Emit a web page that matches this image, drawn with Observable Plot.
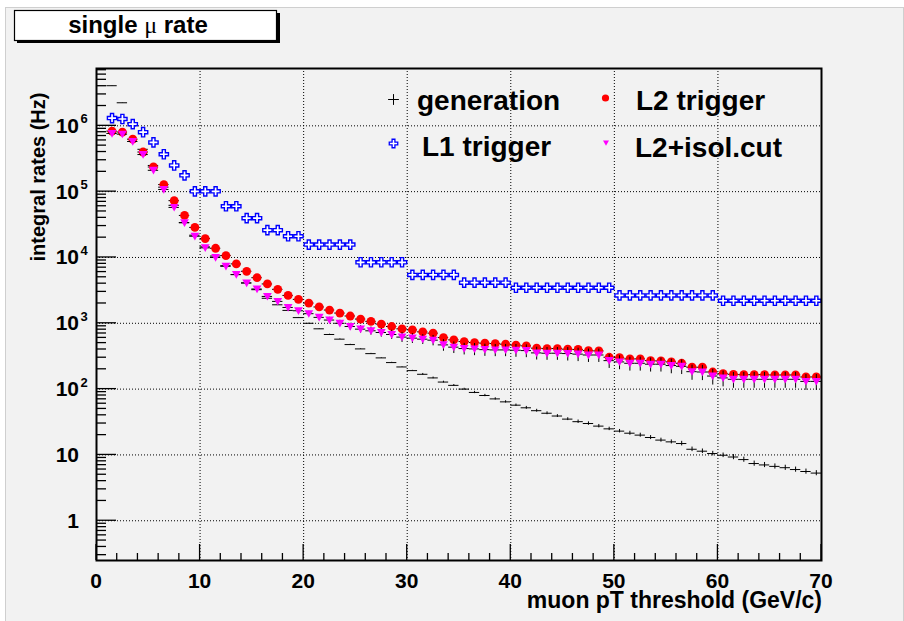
<!DOCTYPE html>
<html><head><meta charset="utf-8">
<script src="https://cdn.jsdelivr.net/npm/d3@7"></script>
<script src="https://cdn.jsdelivr.net/npm/@observablehq/plot@0.6"></script>
<style>
html,body{margin:0;padding:0;background:#fff;}
#chart{position:absolute;left:0;top:0;}
</style></head><body><div id="chart"></div>
<script>
// ---- data (bin centres in GeV/c, integral rates in Hz) ----
const ptBins = [1.5,2.5,3.5,4.5,5.5,6.5,7.5,8.5,9.5,10.5,
  11.5,12.5,13.5,14.5,15.5,16.5,17.5,18.5,19.5,20.5,
  21.5,22.5,23.5,24.5,25.5,26.5,27.5,28.5,29.5,30.5,
  31.5,32.5,33.5,34.5,35.5,36.5,37.5,38.5,39.5,40.5,
  41.5,42.5,43.5,44.5,45.5,46.5,47.5,48.5,49.5,50.5,
  51.5,52.5,53.5,54.5,55.5,56.5,57.5,58.5,59.5,60.5,
  61.5,62.5,63.5,64.5,65.5,66.5,67.5,68.5,69.5];
const generation = [4.07e6,2.24e6,1.1e6,4.4e5,2.5e5,1.17e5,6.2e4,3.4e4,2.18e4,1.45e4,
  1.05e4,7500,5500,4100,3240,2400,1910,1570,1220,1000,
  824,676,574,475,408,346,298,253,217,191,
  168,148,128,114,100,89,80,71,64,57,
  52,47,43,39,35,32,30,27.4,24.9,23,
  21.4,20,18.4,16.8,15.8,14.9,12.2,11.4,10.5,9.9,
  9.3,8.5,7.4,7.05,6.7,6.4,6.0,5.6,5.3];
const generationRelErr = [0.005,0.005,0.005,0.005,0.005,0.005,0.005,0.005,0.005,0.005,
  0.005,0.005,0.005,0.005,0.005,0.005,0.005,0.005,0.005,0.005,
  0.01,0.01,0.01,0.01,0.01,0.01,0.01,0.01,0.01,0.01,
  0.03,0.03,0.03,0.03,0.03,0.04,0.04,0.04,0.04,0.04,
  0.05,0.05,0.05,0.05,0.05,0.06,0.06,0.06,0.06,0.06,
  0.07,0.07,0.07,0.07,0.07,0.08,0.08,0.08,0.08,0.08,
  0.09,0.09,0.09,0.09,0.09,0.09,0.09,0.09,0.09];
const l1Trigger = [1.31e6,1.27e6,1.06e6,8.0e5,5.6e5,3.7e5,2.5e5,1.77e5,1.01e5,1.01e5,
  1.01e5,6.0e4,6.0e4,3.96e4,3.96e4,2.6e4,2.6e4,2.1e4,2.1e4,1.57e4,
  1.57e4,1.57e4,1.57e4,1.57e4,8450,8450,8450,8450,8450,5430,
  5430,5430,5430,5430,4140,4140,4140,4140,4140,3470,
  3470,3470,3470,3470,3470,3470,3470,3470,3470,2650,
  2650,2650,2650,2650,2650,2650,2650,2650,2650,2200,
  2200,2200,2200,2200,2200,2200,2200,2200,2200];
const l2Trigger = [8.3e5,8.05e5,6.27e5,4.0e5,2.37e5,1.28e5,7.3e4,4.35e4,2.86e4,1.94e4,
  1.38e4,1.07e4,7990,6170,4930,3960,3280,2650,2310,2030,
  1770,1590,1430,1290,1160,1070,972,894,824,796,
  741,708,607,560,528,510,499,492,482,466,
  454,419,413,413,404,400,385,381,305,301,
  288,288,271,268,259,247,215,215,182,172,
  168,166,166,166,164,164,164,153,153];
const l2Isol = [7.66e5,7.47e5,5.78e5,3.66e5,2.11e5,1.08e5,5.76e4,3.36e4,2.1e4,1.4e4,
  1.0e4,7340,5490,4100,3320,2560,2150,1740,1550,1400,
  1230,1120,1000,894,815,769,725,676,617,595,
  574,554,470,434,413,408,398,394,394,390,
  385,355,351,351,347,340,330,330,271,259,
  247,247,239,239,228,222,184,182,158,148,
  141,141,141,141,141,141,141,131,131];
const l2IsolRelErr = [0.01,0.01,0.01,0.01,0.01,0.01,0.01,0.01,0.01,0.01,
  0.02,0.02,0.03,0.03,0.04,0.05,0.06,0.07,0.08,0.09,
  0.10,0.10,0.11,0.12,0.13,0.14,0.15,0.16,0.17,0.17,
  0.17,0.18,0.20,0.20,0.20,0.21,0.21,0.21,0.21,0.22,
  0.22,0.22,0.22,0.22,0.23,0.23,0.23,0.23,0.24,0.24,
  0.24,0.24,0.24,0.24,0.25,0.25,0.26,0.26,0.27,0.27,
  0.27,0.27,0.27,0.27,0.27,0.27,0.27,0.27,0.27];
const binWidth = 1;

const xTickValues = [0,10,20,30,40,50,60,70];
const xTickLabels = ["0","10","20","30","40","50","60","70"];
const yTickValues = [1,10,100,1e3,1e4,1e5,1e6];
const yTickBase = ["1","10","10","10","10","10","10"];
const yTickExp = ["","","2","3","4","5","6"];
const legendLabels = ["generation","L1 trigger","L2 trigger","L2+isol.cut"];
const xDomain = [0,70];
const yDomain = [0.249, 7.43e6];

// ---- tables ----
const gen = ptBins.map((x,i)=>({x, v:generation[i], e:generationRelErr[i]}));
const l1 = ptBins.map((x,i)=>({x, v:l1Trigger[i]}));
const l2 = ptBins.map((x,i)=>({x, v:l2Trigger[i]}));
const iso = ptBins.map((x,i)=>({x, v:l2Isol[i], e:l2IsolRelErr[i]}));

const triangleDown = {draw(ctx, size){const r=Math.sqrt(size/Math.PI);
  ctx.moveTo(-r,-r*0.8); ctx.lineTo(r,-r*0.8); ctx.lineTo(0,r*0.95); ctx.closePath();}};

const FONT = "'Liberation Sans', Arial, Helvetica, sans-serif";
const hbar = (data)=>Plot.ruleY(data,{x1:d=>d.x-binWidth/2, x2:d=>d.x+binWidth/2, y:"v", stroke:"black", strokeWidth:1});

const plot = Plot.plot({
  width: 904, height: 621,
  marginLeft: 96, marginRight: 83, marginTop: 68, marginBottom: 61,
  x: {domain: xDomain, axis: null},
  y: {type: "log", domain: yDomain, axis: null},
  style: {background: "white", overflow: "visible"},
  marks: [
    Plot.ruleX(xTickValues.slice(1,-1), {stroke:"#000", strokeWidth:1, strokeDasharray:"1,2"}),
    Plot.ruleY(yTickValues, {stroke:"#000", strokeWidth:1, strokeDasharray:"1,2"}),
    hbar(gen),
    Plot.ruleX(gen, {x:"x", y1:d=>d.v*(1-d.e), y2:d=>d.v*(1+d.e), stroke:"black", strokeWidth:1}),
    Plot.dot(l1, {x:"x", y:"v", symbol:"cross", r:3.9, fill:"white", stroke:"blue", strokeWidth:1.4}),
    hbar(l2),
    Plot.dot(l2, {x:"x", y:"v", r:4.4, fill:"red", stroke:"none"}),
    hbar(iso),
    Plot.ruleX(iso, {x:"x", y1:d=>d.v*(1-d.e), y2:d=>d.v*(1+d.e), stroke:"black", strokeWidth:1}),
    Plot.dot(iso, {x:"x", y:"v", symbol:triangleDown, r:4.4, fill:"#ff00ff", stroke:"none"}),
    Plot.frame({stroke:"black", strokeWidth:2})
  ]
});
document.getElementById("chart").appendChild(plot);

// ---- decorations drawn with the plot's own scales ----
const svg = d3.select(plot);
const X = v => plot.scale("x").apply(v);
const Y = v => plot.scale("y").apply(v);
const x0 = X(xDomain[0]), yb = Y(yDomain[0]);

svg.insert("rect", ":first-child")
  .attr("x",5.5).attr("y",7.5).attr("width",898).attr("height",614)
  .attr("fill","#f2f2f2").attr("stroke","#cfcfcf").attr("stroke-width",1);

const g = svg.append("g").attr("stroke","black").attr("stroke-width",1.3);
for (let v=xDomain[0]; v<=xDomain[1]; v+=2) {
  const major = v%10===0;
  g.append("line").attr("x1",X(v)).attr("x2",X(v)).attr("y1",yb).attr("y2",yb-(major?16:7));
}
for (let p=-1; p<=6; p++) {
  for (let m=1; m<=9; m++) {
    const v = m*Math.pow(10,p);
    if (v<yDomain[0] || v>yDomain[1]) continue;
    g.append("line").attr("y1",Y(v)).attr("y2",Y(v)).attr("x1",x0).attr("x2",x0+(m===1?20:10));
  }
}
const t = svg.append("g").attr("font-family",FONT).attr("font-weight","bold").attr("fill","black");
xTickValues.forEach((v,i)=>{
  t.append("text").attr("x",X(v)).attr("y",588).attr("text-anchor","middle").attr("font-size",21).text(xTickLabels[i]);
});
yTickValues.forEach((v,i)=>{
  t.append("text").attr("x",79).attr("y",Y(v)+7.5).attr("text-anchor","end").attr("font-size",21).text(yTickBase[i]);
  if (yTickExp[i]) t.append("text").attr("x",80.5).attr("y",Y(v)-2).attr("text-anchor","start").attr("font-size",13).text(yTickExp[i]);
});
t.append("text").attr("x",822).attr("y",608).attr("text-anchor","end").attr("font-size",23).text("muon pT threshold (GeV/c)");
t.append("text").attr("transform","translate(45,177) rotate(-90)").attr("text-anchor","middle").attr("font-size",20).text("integral rates (Hz)");

// title box
svg.append("rect").attr("x",17).attr("y",13).attr("width",263).attr("height",30).attr("fill","black");
svg.append("rect").attr("x",14.5).attr("y",10.5).attr("width",262).attr("height",30).attr("fill","white").attr("stroke","black").attr("stroke-width",1.2);
const tt = svg.append("text").attr("x",138).attr("y",33).attr("text-anchor","middle")
  .attr("font-family",FONT).attr("font-weight","bold").attr("font-size",24).attr("fill","black");
tt.append("tspan").text("single ");
tt.append("tspan").attr("font-family","'Liberation Serif', 'DejaVu Serif', serif").attr("font-weight","normal").text("μ");
tt.append("tspan").text(" rate");

// legend
const lg = svg.append("g");
lg.append("path").attr("d",d3.symbol(d3.symbolPlus,40)()).attr("transform","translate(393.5,99.5)").attr("stroke","black").attr("stroke-width",1).attr("fill","none");
lg.append("path").attr("d",d3.symbol(d3.symbolCross,40)()).attr("transform","translate(393.5,143.5)").attr("stroke","blue").attr("stroke-width",1.3).attr("fill","white");
lg.append("circle").attr("cx",605.5).attr("cy",98).attr("r",3.6).attr("fill","red");
const tp = d3.path(); triangleDown.draw(tp, Math.PI*9);
lg.append("path").attr("d",tp.toString()).attr("transform","translate(606,143)").attr("fill","#ff00ff");
const lt = [[417,110],[422,156],[636,110],[635,157]];
legendLabels.forEach((s,i)=>{
  lg.append("text").attr("x",lt[i][0]).attr("y",lt[i][1]).attr("text-anchor","start")
    .attr("font-family",FONT).attr("font-weight","bold").attr("font-size",28).attr("fill","black").text(s);
});
</script></body></html>
